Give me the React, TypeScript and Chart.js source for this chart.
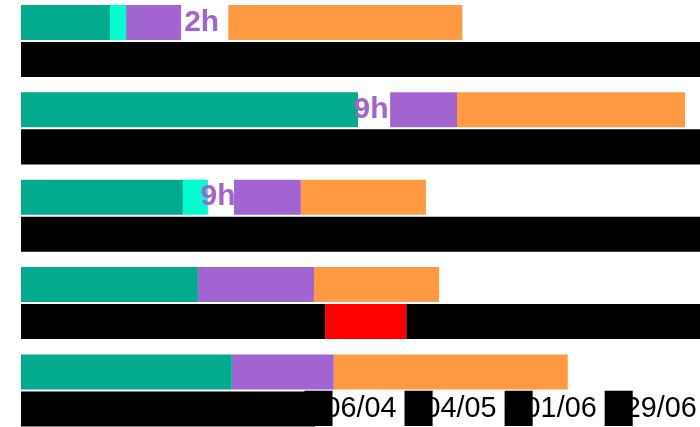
import { useEffect, useRef } from "react";
import { Chart, registerables } from "chart.js";

Chart.register(...registerables);

// Rows (categories) — y labels are not shown in the picture
const categories = ["Lot 1", "Lot 2", "Lot 3", "Lot 4", "Lot 5"];

// Values in days counted from 1 January (x axis)
const tealDays = [24.9, 94.3, 45.3, 49.5, 59.0];
const cyanDays = [4.5, 0, 7.0, 0, 0];
const gapADays = [0, 9.0, 7.3, 0, 0];
const purpleDays = [15.4, 18.7, 18.7, 32.5, 28.5];
const gapBDays = [13.2, 0, 0, 0, 0];
const orangeDays = [65.5, 63.8, 35.0, 35.0, 65.5];

const gapALabels = ["", "9h", "9h", "", ""];
const gapBLabels = ["2h", "", "", "", ""];

const blackDays = [190, 190, 190, 85.1, 82.3];
const redDays = [0, 0, 0, 22.7, 0];
const black2Days = [0, 0, 0, 82.2, 0];

const xMinDay = 0;
const xMaxDay = 190;
const tickDays = [95, 123, 151, 179];
const tickLabels = ["06/04", "04/05", "01/06", "29/06"];

const TEAL = "#02aa8e";
const CYAN = "#00ffcf";
const PURPLE = "#a264d0";
const ORANGE = "#ff9a42";
const RED = "#ff0000";
const BLACK = "#000000";

const gapLabelPlugin = {
  id: "gapLabels",
  afterDatasetsDraw(chart: any) {
    const ctx = chart.ctx;
    chart.data.datasets.forEach((ds: any, di: number) => {
      const labels: string[] | undefined = ds.gapLabels;
      if (!labels) return;
      const meta = chart.getDatasetMeta(di);
      meta.data.forEach((el: any, i: number) => {
        const t = labels[i];
        if (!t) return;
        const { x, y, base } = el.getProps(["x", "y", "base"], true);
        ctx.save();
        ctx.font = "bold 30px 'Helvetica Neue', Helvetica, Arial, sans-serif";
        ctx.fillStyle = PURPLE;
        ctx.textAlign = "center";
        ctx.textBaseline = "middle";
        ctx.fillText(t, (x + base) / 2 - 3, y);
        ctx.restore();
      });
    });
  },
};

export default function App() {
  const canvasRef = useRef<HTMLCanvasElement | null>(null);

  useEffect(() => {
    if (!canvasRef.current) return;
    const mk = (label: string, data: number[], color: string, stack: string, extra: any = {}) => ({
      label,
      data,
      backgroundColor: color,
      borderWidth: 0,
      stack,
      clip: false,
      categoryPercentage: 0.848,
      barPercentage: 0.946,
      ...extra,
    });
    const chart = new Chart(canvasRef.current, {
      type: "bar",
      data: {
        labels: categories,
        datasets: [
          mk("Teal", tealDays, TEAL, "plan"),
          mk("Cyan", cyanDays, CYAN, "plan"),
          mk("GapA", gapADays, "rgba(0,0,0,0)", "plan", { gapLabels: gapALabels }),
          mk("Purple", purpleDays, PURPLE, "plan"),
          mk("GapB", gapBDays, "rgba(0,0,0,0)", "plan", { gapLabels: gapBLabels }),
          mk("Orange", orangeDays, ORANGE, "plan"),
          mk("Black", blackDays, BLACK, "real"),
          mk("Red", redDays, RED, "real"),
          mk("Black2", black2Days, BLACK, "real"),
        ] as any,
      },
      options: {
        indexAxis: "y",
        animation: false,
        responsive: true,
        maintainAspectRatio: false,
        layout: { padding: { left: 21, top: 41, right: 0, bottom: 0 } },
        plugins: { legend: { display: false }, tooltip: { enabled: false } },
        scales: {
          y: { type: "category", display: false, offset: false, stacked: true },
          x: {
            type: "linear",
            min: xMinDay,
            max: xMaxDay,
            stacked: true,
            grid: { display: false, drawTicks: false },
            border: { display: false },
            afterBuildTicks: (scale: any) => {
              scale.ticks = tickDays.map((v) => ({ value: v }));
            },
            ticks: {
              autoSkip: false,
              maxRotation: 0,
              minRotation: 0,
              padding: 1,
              color: "#000",
              font: { size: 28.8 },
              callback: (_v: any, i: number) => tickLabels[i] ?? "",
              showLabelBackdrop: true,
              backdropColor: BLACK,
              backdropPadding: { top: 1, bottom: 0, left: 20, right: -64 },
            },
          },
        },
      } as any,
      plugins: [gapLabelPlugin],
    });
    return () => chart.destroy();
  }, []);

  return (
    <div style={{ position: "fixed", left: 0, top: 0, width: 700, height: 427 }}>
      <canvas ref={canvasRef} />
    </div>
  );
}
